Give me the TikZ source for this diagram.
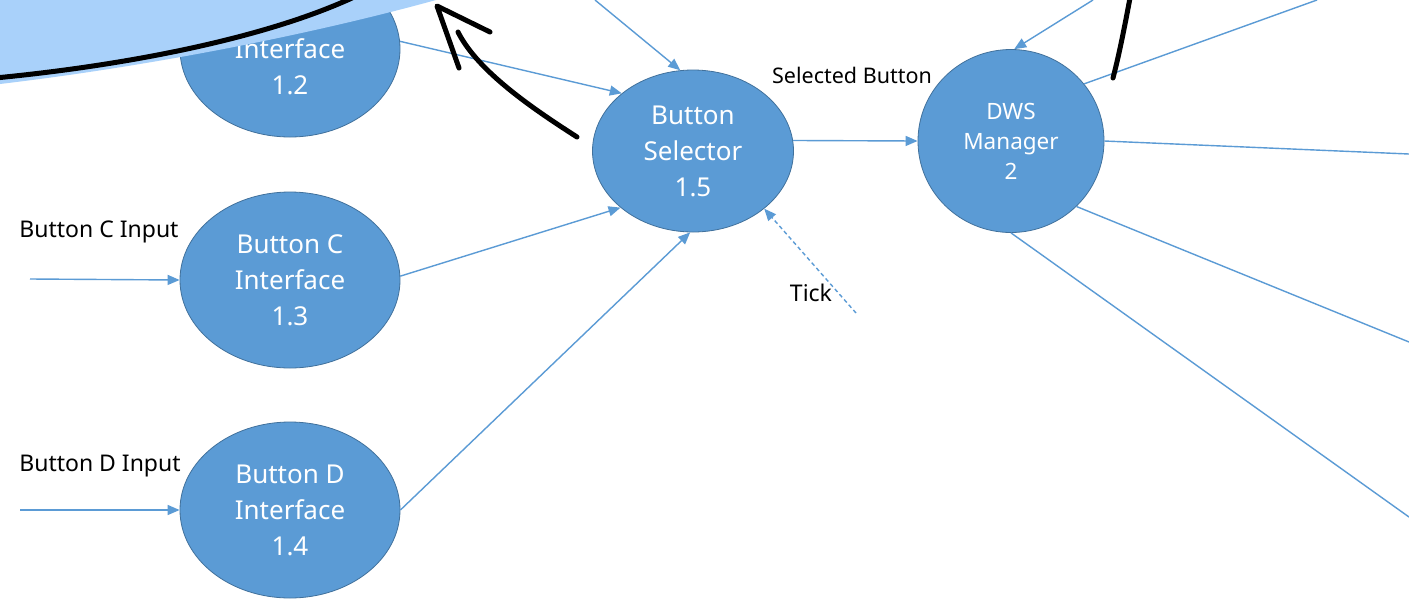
\documentclass[tikz,border=0pt]{standalone}
\usepackage{fontspec}
\setmainfont{Noto Sans}
\usetikzlibrary{shapes.geometric,arrows.meta}
\definecolor{nodeblue}{HTML}{5B9BD5}
\definecolor{nodeedge}{HTML}{41719C}
\definecolor{hilite}{HTML}{A9D1FA}
\begin{document}
\begin{tikzpicture}[x=1pt,y=-1pt,
  proc/.style={ellipse, draw=nodeedge, line width=0.8pt, fill=nodeblue, text=white,
    align=center, inner sep=0pt, font=\fontsize{26}{36}\selectfont},
  iface/.style={proc, minimum width=220pt, minimum height=176pt},
  flow/.style={draw=nodeblue, line width=1.4pt, -{Triangle[length=12pt,width=10pt]}},
  plainflow/.style={draw=nodeblue, line width=1.4pt},
  tickflow/.style={flow, dash pattern=on 4pt off 3pt},
  lbl/.style={font=\fontsize{23}{26}\selectfont, text=black, inner sep=0pt},
  ink/.style={draw=black, line width=5pt, line cap=round, line join=round}]
\useasboundingbox (0,0) rectangle (1409,606);
\clip (0,0) rectangle (1409,606);
\fill[white] (0,0) rectangle (1409,606);

% process bubbles
\node[iface] (b12) at (290,49) {\phantom{Button B}\\Interface\\1.2};
\node[iface] (b13) at (290,280) {Button C\\Interface\\1.3};
\node[iface] (b14) at (290,510) {Button D\\Interface\\1.4};
\node[proc, minimum width=201pt, minimum height=162pt] (b15) at (693,151) {Button\\Selector\\1.5};
\node[proc, minimum width=186pt, minimum height=183pt, font=\fontsize{22.5}{30}\selectfont] (dws) at (1011,141) {DWS\\Manager\\2};

% labels
\node[lbl] (lc) at (99,232) {Button C Input};
\node[lbl] (ld) at (100,466) {Button D Input};
\node[lbl, font=\fontsize{21.5}{26}\selectfont] (lsel) at (852,75) {Selected Button};
\node[lbl] (ltick) at (811,293) {Tick};

% free ends
\coordinate (inC) at (30,279);
\coordinate (inD) at (20,510);
\coordinate (topA) at (595,0);
\coordinate (topB) at (1093,0);
\coordinate (tk) at (856,313);
\coordinate (o1) at (1317,0);
\coordinate (o2) at (1409,154);
\coordinate (o3) at (1409,342);
\coordinate (o4) at (1409,517);

% connectors
\draw[flow] (inC) -- (b13.west);
\draw[flow] (inD) -- (b14.west);
\draw[flow] (b12.4) -- (b15.141);
\draw[flow] (b13.2) -- (b15.218);
\draw[flow] (b14.0) -- (b15.268);
\draw[flow] (topA) -- (b15.99);
\draw[flow] (b15.6) -- (dws.180);
\draw[tickflow] (tk) -- (b15.321);
\draw[flow] (topB) -- (dws.88);
\draw[plainflow] (dws.38) -- (o1);
\draw[plainflow] (dws.0) -- (o2);
\draw[plainflow] (dws.315) -- (o3);
\draw[plainflow] (dws.270) -- (o4);

% hand-drawn overlay
\fill[hilite] (0,0) -- (436,0) .. controls (320,32) and (160,65) .. (0,84) -- cycle;
\draw[ink] (-5,78) .. controls (120,66) and (260,40) .. (352,-2);
\draw[ink] (577,137) .. controls (535,110) and (478,72) .. (458,32);
\draw[ink] (459,68) -- (437,6) -- (490,32);
\draw[ink] (1113,78) .. controls (1119,55) and (1124,30) .. (1130,-2);
\end{tikzpicture}
\end{document}
